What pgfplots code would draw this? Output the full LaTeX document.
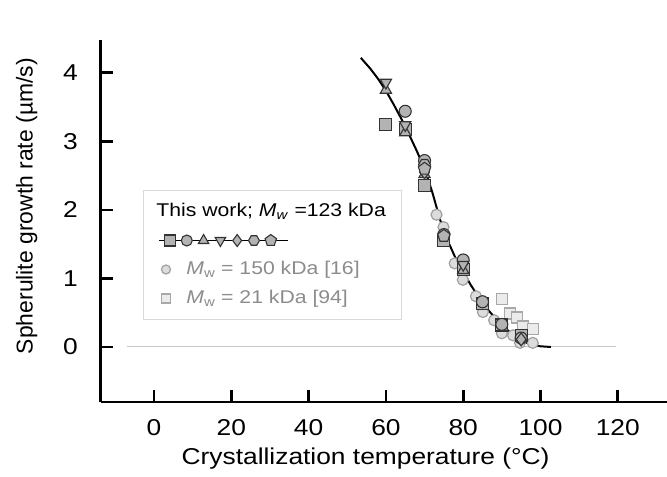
\documentclass[border=0pt]{standalone}
\usepackage{pgfplots}
\pgfplotsset{compat=1.18}
\usetikzlibrary{plotmarks}
\usepackage{fontspec}
\setmainfont{Liberation Sans}[FakeStretch=1.15]
\newfontfamily\ylfont{Liberation Sans}
\definecolor{mfill}{HTML}{B3B3B3}
\definecolor{medge}{HTML}{333333}
\definecolor{lcfill}{HTML}{DCDCDC}
\definecolor{lcedge}{HTML}{A0A0A0}
\definecolor{lsfill}{HTML}{EBEBEB}
\definecolor{lsedge}{HTML}{A8A8A8}
\definecolor{ltext}{HTML}{8C8C8C}
\pgfdeclareplotmark{hexagon*}{%
  \pgfpathmoveto{\pgfqpointpolar{0}{\pgfplotmarksize}}%
  \pgfpathlineto{\pgfqpointpolar{60}{\pgfplotmarksize}}%
  \pgfpathlineto{\pgfqpointpolar{120}{\pgfplotmarksize}}%
  \pgfpathlineto{\pgfqpointpolar{180}{\pgfplotmarksize}}%
  \pgfpathlineto{\pgfqpointpolar{240}{\pgfplotmarksize}}%
  \pgfpathlineto{\pgfqpointpolar{300}{\pgfplotmarksize}}%
  \pgfpathclose\pgfusepathqfillstroke}
\tikzset{mk/.style={draw=medge, fill=mfill, line width=1.1bp}}
\begin{document}
\begin{tikzpicture}
\useasboundingbox (-100.7bp,-75bp) rectangle (566.3bp,402bp);
\begin{axis}[
  scale only axis, width=566bp, height=362bp,
  xmin=-13.8, xmax=132.66, ymin=-0.803, ymax=4.48,
  axis lines=left, axis line style={-, line width=2.8bp, black},
  major tick style={line width=2.8bp, black}, tick align=inside, major tick length=12bp,
  xtick={0,20,...,120}, ytick={0,1,2,3,4}, minor tick num=0,
  /pgf/number format/assume math mode=true,
  tick label style={font=\fontsize{23}{27}\selectfont, inner sep=0pt},
  xticklabel style={anchor=center, yshift=-26bp},
  yticklabel style={anchor=east, xshift=-22.7bp},
  xlabel={Crystallization temperature (°C)},
  ylabel={Spherulite growth rate (µm/s)},
  xlabel style={font=\fontsize{23}{27}\selectfont, at={(axis description cs:0.468,-0.157)}, anchor=center},
  ylabel style={font=\ylfont\fontsize{23}{27}\selectfont, at={(axis description cs:-0.1307,0.541)}, anchor=center},
  clip=false,
  legend style={at={(0.0747,0.5856)}, anchor=north west, draw=gray!30, line width=1bp, fill=white,
    font=\fontsize{18.5}{22}\selectfont, inner xsep=14bp, inner ysep=10bp, row sep=7bp, column sep=14bp,
    nodes={text height=14bp, text depth=4bp, inner sep=2bp}},
  legend cell align=left,
]
% zero line
\addplot[gray!45, line width=1bp, forget plot] coordinates {(-7,0) (119.5,0)};
% Mw = 150 kDa [16]
\addplot[only marks, mark=*, mark size=5.5bp, mark options={draw=lcedge, fill=lcfill, line width=1.2bp}, forget plot] coordinates {
(73.1,1.93) (74.9,1.75) (77.8,1.22) (79.9,0.98) (83.3,0.74) (85.1,0.51) (88,0.39) (90,0.2) (92.9,0.17) (94.7,0.06) (98,0.06)};
% Mw = 21 kDa [94]
\addplot[only marks, mark=square*, mark size=5.5bp, mark options={draw=lsedge, fill=lsfill, line width=1.2bp}, forget plot] coordinates {
(90,0.7) (92.1,0.49) (94,0.43) (95.5,0.3) (98,0.26)};
% fit line
\addplot[black, line width=2bp, forget plot] coordinates {
(53.5,4.22) (56,4.06) (58,3.91) (60,3.74) (62,3.54) (64,3.33) (66,3.1) (68,2.86) (70,2.6) (72,2.26) (74,1.86) (76,1.55) (78,1.3) (80,1.1) (82,0.9) (84,0.73) (86,0.57) (88,0.44) (90,0.32) (92,0.22) (94,0.13) (96,0.07) (98,0.03) (100,0.01) (102.7,0)};
% this work
\addplot[only marks, mark=square*, mark size=6bp, mark options={mk}, forget plot] coordinates {
(60,3.25) (65,3.17) (70,2.35) (75,1.56) (80,1.13) (85,0.64) (90,0.32) (95,0.17)};
\addplot[only marks, mark=*, mark size=6bp, mark options={mk}, forget plot] coordinates {
(65,3.44) (70,2.72) (75,1.64) (80,1.27) (85,0.66) (90,0.33) (95,0.13)};
\addplot[only marks, mark=triangle*, mark size=6.5bp, mark options={mk}, forget plot] coordinates {
(60,3.75) (65,3.13) (70,2.52) (80,1.12)};
\addplot[only marks, mark=triangle*, mark size=6.5bp, mark options={mk, rotate=180}, forget plot] coordinates {
(60,3.86) (65,3.24) (70,2.58) (80,1.2)};
\addplot[only marks, mark=diamond*, mark size=6.5bp, mark options={mk}, forget plot] coordinates {
(70,2.55) (95,0.11)};
\addplot[only marks, mark=hexagon*, mark size=6bp, mark options={mk}, forget plot] coordinates {
(70,2.66)};
\addplot[only marks, mark=pentagon*, mark size=6.5bp, mark options={mk}, forget plot] coordinates {
(70,2.6) (75,1.62)};
% legend
\addlegendimage{legend image code/.code={}}
\addlegendentry{\hspace*{-30bp}This work; \textit{M}\textsubscript{\textit{w}} =123 kDa}
\addlegendimage{legend image code/.code={%
  \draw[overlay, black, line width=1.5bp] (1.5bp,0) -- (130.5bp,0);
  \draw[overlay, mk] plot[mark=square*, mark size=5.5bp] coordinates {(12.5bp,0)};
  \draw[overlay, mk] plot[mark=*, mark size=5.5bp] coordinates {(29.3bp,0)};
  \draw[overlay, mk] plot[mark=triangle*, mark size=6bp] coordinates {(46.1bp,0)};
  \draw[overlay, mk] plot[mark=triangle*, mark size=6bp, mark options={rotate=180}] coordinates {(62.9bp,0)};
  \draw[overlay, mk] plot[mark=diamond*, mark size=6bp] coordinates {(79.7bp,0)};
  \draw[overlay, mk] plot[mark=hexagon*, mark size=5.5bp] coordinates {(96.5bp,0)};
  \draw[overlay, mk] plot[mark=pentagon*, mark size=6bp] coordinates {(113.3bp,0)};
}}
\addlegendentry{\phantom{x}}
\addlegendimage{only marks, mark=*, mark size=4.5bp, mark options={draw=lcedge, fill=lcfill, line width=1.2bp}}
\addlegendentry{\textcolor{ltext}{\textit{M}\textsubscript{w} = 150 kDa [16]}}
\addlegendimage{only marks, mark=square*, mark size=4.5bp, mark options={draw=lsedge, fill=lsfill, line width=1.2bp}}
\addlegendentry{\textcolor{ltext}{\textit{M}\textsubscript{w} = 21 kDa [94]}}
\end{axis}
\end{tikzpicture}
\end{document}
